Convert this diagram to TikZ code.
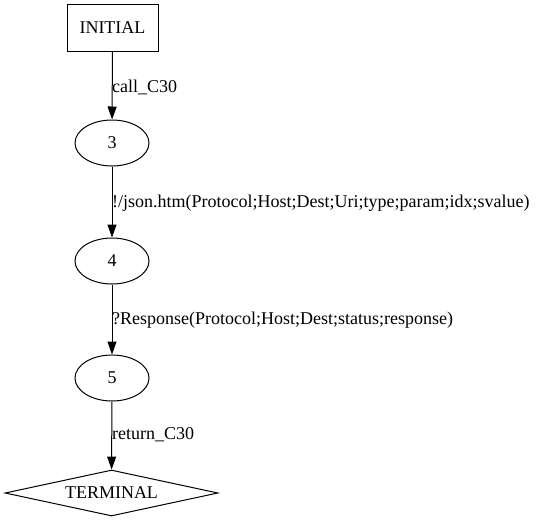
\documentclass[tikz,border=0pt]{standalone}
\usepackage{fontspec}
\setmainfont{Liberation Serif}
\usetikzlibrary{shapes.geometric,arrows.meta}
\begin{document}
\begin{tikzpicture}[x=1pt,y=-1pt,
  every node/.style={font=\fontsize{18}{22}\selectfont},
  state/.style={draw,ellipse,minimum width=74pt,minimum height=46pt,inner sep=0pt,line width=1pt},
  startbox/.style={draw,rectangle,minimum width=91pt,minimum height=47pt,inner sep=0pt,line width=1pt},
  endbox/.style={draw,diamond,aspect=4.63,minimum width=213pt,minimum height=46pt,inner sep=0pt,line width=1pt},
  trans/.style={draw=black,line width=1pt,-{Triangle[length=13pt,width=9pt]}},
  lbl/.style={anchor=west,inner sep=0pt}]
\useasboundingbox (0,0) rectangle (539,523);
\node[startbox] (init) at (112.5,28) {INITIAL};
\node[state] (s3) at (112,143) {3};
\node[state] (s4) at (112,261) {4};
\node[state] (s5) at (112,378) {5};
\node[endbox] (term) at (111.5,493) {TERMINAL};
\draw[trans] (init) -- (s3);
\draw[trans] (s3) -- (s4);
\draw[trans] (s4) -- (s5);
\draw[trans] (s5) -- (term);
\node[lbl] (l1) at (112,87) {call\_C30};
\node[lbl] (l2) at (112,203) {!/json.htm(Protocol;Host;Dest;Uri;type;param;idx;svalue)};
\node[lbl] (l3) at (112,320) {?Response(Protocol;Host;Dest;status;response)};
\node[lbl] (l4) at (112,435) {return\_C30};
\end{tikzpicture}
\end{document}
